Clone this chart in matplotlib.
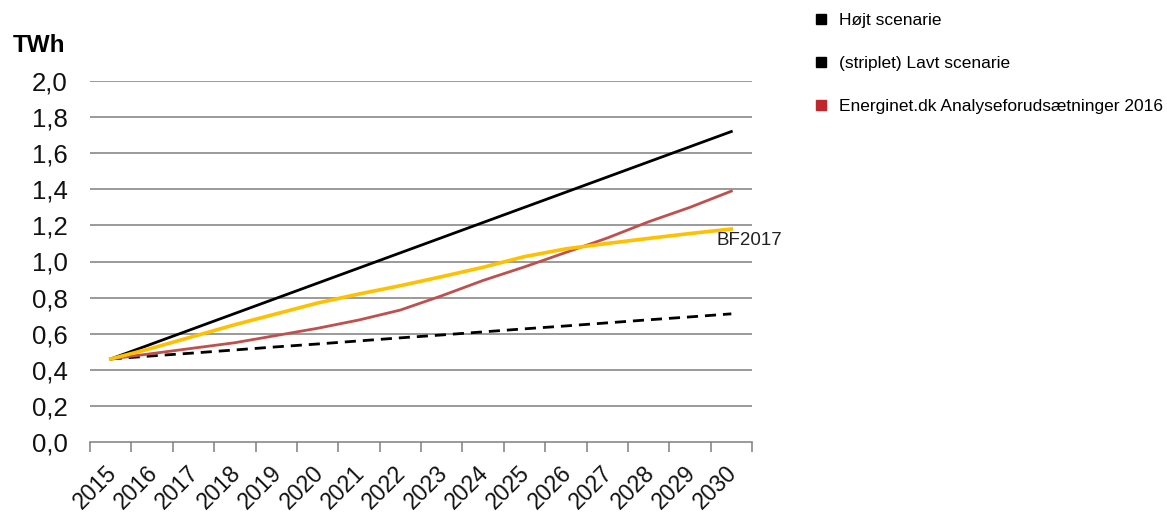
import matplotlib
matplotlib.use("Agg")
import matplotlib.pyplot as plt
from matplotlib.lines import Line2D
from matplotlib.ticker import FixedLocator
from matplotlib.transforms import ScaledTranslation

plt.rcParams['font.family'] = ['Liberation Sans', 'DejaVu Sans']

years = [str(y) for y in range(2015, 2031)]
hoejt = [0.46, 0.544, 0.628, 0.712, 0.796, 0.88, 0.964, 1.048, 1.132, 1.216,
         1.30, 1.384, 1.468, 1.552, 1.636, 1.72]
lavt = [0.46, 0.477, 0.493, 0.51, 0.527, 0.543, 0.56, 0.577, 0.593, 0.61,
        0.627, 0.643, 0.66, 0.677, 0.693, 0.71]
energinet = [0.46, 0.49, 0.52, 0.55, 0.59, 0.63, 0.676, 0.731, 0.81, 0.895,
             0.97, 1.05, 1.13, 1.22, 1.30, 1.39]
bf2017 = [0.46, 0.52, 0.585, 0.65, 0.71, 0.77, 0.82, 0.866, 0.916, 0.968,
          1.027, 1.07, 1.10, 1.128, 1.155, 1.18]
yticks = [0.0, 0.2, 0.4, 0.6, 0.8, 1.0, 1.2, 1.4, 1.6, 1.8, 2.0]
legend_labels = ["Højt scenarie", "(striplet) Lavt scenarie",
                 "Energinet.dk Analyseforudsætninger 2016"]

fig = plt.figure(figsize=(11.67, 5.15), dpi=100)
ax = fig.add_axes([90/1167, 1-442/515, (752-90)/1167, (442-81)/515])

x = list(range(len(years)))
grid_c = '#7f7f7f'
for yv in yticks[1:]:
    ax.axhline(yv, color=grid_c, lw=1.1, zorder=1)

ax.plot(x, hoejt, color='black', lw=2.0, zorder=3)
ax.plot(x, lavt, color='black', lw=2.0, ls=(0, (4, 2.5)), zorder=3)
ax.plot(x, energinet, color='#c0504d', lw=2.0, zorder=3)
ax.plot(x, bf2017, color='#ffc000', lw=2.6, zorder=3)
ax.text(14.63, 1.115, "BF2017", fontsize=13.5, ha='left', va='center', color='#222222')

ax.set_xlim(-0.5, len(years) - 0.5)
ax.set_ylim(0, 2.0)
ax.set_yticks(yticks)
ax.set_yticklabels([f"{v:.1f}".replace('.', ',') for v in yticks], fontsize=18.5, color='#111111')
ax.tick_params(axis='y', length=0, pad=16)

ax.xaxis.set_major_locator(FixedLocator([i - 0.5 for i in range(len(years) + 1)]))
ax.xaxis.set_minor_locator(FixedLocator(x))
ax.set_xticklabels([], minor=False)
ax.set_xticklabels(years, minor=True, rotation=45, ha='right', rotation_mode='anchor',
                   fontsize=16.5, color='#111111')
ax.tick_params(axis='x', which='major', length=7, width=1.1, color=grid_c, direction='out')
ax.tick_params(axis='x', which='minor', length=0, pad=14)
off = ScaledTranslation(-6/100, 0, fig.dpi_scale_trans)
for lab in ax.get_xticklabels(minor=True):
    lab.set_transform(lab.get_transform() + off)

for s in ['left', 'right', 'top']:
    ax.spines[s].set_visible(False)
ax.spines['bottom'].set_color(grid_c)
ax.spines['bottom'].set_linewidth(1.1)

fig.text(13/1167, 1-45/515, "TWh", fontsize=17.5, fontweight='bold', ha='left', va='center')

handles = [Line2D([], [], marker='s', ls='none', color=c, markersize=7)
           for c in ['black', 'black', '#c0272d']]
fig.legend(handles, legend_labels, loc='upper left', bbox_to_anchor=(804/1167, 1-6/515),
           frameon=False, fontsize=12.5, labelspacing=1.6, handletextpad=0.4,
           handlelength=1.2, borderaxespad=0)

fig.savefig("out.png", dpi=100)
